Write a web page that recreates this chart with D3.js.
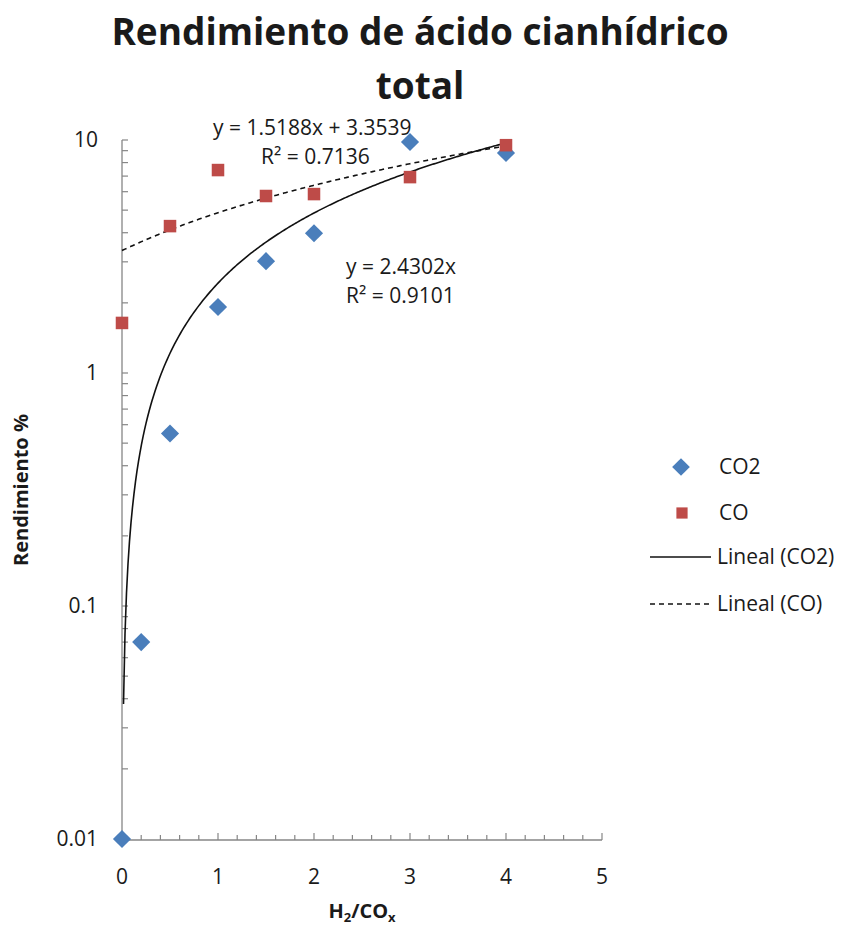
<!DOCTYPE html>
<html>
<head>
<meta charset="utf-8">
<script src="https://cdn.jsdelivr.net/npm/d3@7"></script>
<style>
  body { margin: 0; background: #fff; }
  text { font-family: "Open Sans", "Noto Sans", sans-serif; fill: #1a1a1a; }
</style>
</head>
<body>
<script>
// datos
const xCO2 = [0, 0.2, 0.5, 1, 1.5, 2, 3, 4]
const yCO2 = [0.01, 0.07, 0.55, 1.92, 3.02, 3.98, 9.8, 8.8]
const xCO = [0, 0.5, 1, 1.5, 2, 3, 4]
const yCO = [1.64, 4.27, 7.43, 5.75, 5.86, 6.93, 9.5]

// lineas de tendencia (ecuaciones mostradas en el grafico)
const slopeCO2 = 2.4302
const slopeCO = 1.5188, interceptCO = 3.3539
const eqCO2 = ["y = 2.4302x", "R² = 0.9101"]
const eqCO = ["y = 1.5188x + 3.3539", "R² = 0.7136"]

const xTicks = [0, 1, 2, 3, 4, 5]
const yTicks = [0.01, 0.1, 1, 10]
const yTickLabels = ["0.01", "0.1", "1", "10"]
const legendNames = ["CO2", "CO", "Lineal (CO2)", "Lineal (CO)"]

const W = 847, H = 928
const svg = d3.select("body").append("svg").attr("width", W).attr("height", H)

const x = d3.scaleLinear().domain([0, 5]).range([122, 602])
const y = d3.scaleLog().domain([0.01, 10]).range([839, 140])

const fs = 21   // tamaño de texto general

// ejes
const axisColor = "#868686"
svg.append("line").attr("x1", x(0)).attr("x2", x(0)).attr("y1", y(10)).attr("y2", y(0.01) + 1)
    .attr("stroke", axisColor).attr("stroke-width", 1.3)
svg.append("line").attr("x1", x(0)).attr("x2", x(5)).attr("y1", y(0.01) + 1).attr("y2", y(0.01) + 1)
    .attr("stroke", axisColor).attr("stroke-width", 1.3)

// marcas menores eje y (log)
let yMinor = []
for (let d = 0.01; d < 10; d *= 10) {
    for (let k = 1; k <= 9; k++) yMinor.push(+(d * k).toPrecision(3))
}
yMinor.push(10)
svg.selectAll(".ytick").data(yMinor).enter().append("line")
    .attr("x1", x(0)).attr("x2", x(0) + 6)
    .attr("y1", d => y(d)).attr("y2", d => y(d))
    .attr("stroke", axisColor).attr("stroke-width", 1.2)

svg.selectAll(".ylab").data(yTicks).enter().append("text")
    .attr("x", 98).attr("y", d => y(d)).attr("dy", "0.35em")
    .attr("text-anchor", "end").attr("font-size", fs)
    .text((d, i) => yTickLabels[i])

// marcas eje x
const xMinor = d3.range(0, 5.01, 0.2)
svg.selectAll(".xtick").data(xMinor).enter().append("line")
    .attr("x1", d => x(d)).attr("x2", d => x(d))
    .attr("y1", y(0.01) + 1).attr("y2", (d, i) => y(0.01) + 1 - (i % 5 === 0 ? 7 : 5))
    .attr("stroke", axisColor).attr("stroke-width", 1.2)

svg.selectAll(".xlab").data(xTicks).enter().append("text")
    .attr("x", d => x(d)).attr("y", 877).attr("dy", "0.35em")
    .attr("text-anchor", "middle").attr("font-size", fs)
    .text(d => d)

// lineas de tendencia
const nSamp = 256
const co2Line = d3.range(1, nSamp + 1).map(i => {
    const xv = 4 * i / nSamp
    return [xv, slopeCO2 * xv]
})
const coLine = d3.range(0, nSamp + 1).map(i => {
    const xv = 4 * i / nSamp
    return [xv, slopeCO * xv + interceptCO]
})
const line = d3.line().x(d => x(d[0])).y(d => y(d[1]))

svg.append("path").attr("d", line(co2Line)).attr("fill", "none")
    .attr("stroke", "#111").attr("stroke-width", 1.6)
svg.append("path").attr("d", line(coLine)).attr("fill", "none")
    .attr("stroke", "#111").attr("stroke-width", 1.6).attr("stroke-dasharray", "5,4")

// puntos
const diamond = d3.symbol().type(d3.symbolDiamond2).size(210)
const square = d3.symbol().type(d3.symbolSquare2).size(200)
const blue = "#4a7ebb", red = "#be4b48"

svg.selectAll(".co2").data(xCO2).enter().append("path")
    .attr("d", diamond)
    .attr("transform", (d, i) => "translate(" + x(d) + "," + y(yCO2[i]) + ")")
    .attr("fill", blue)
svg.selectAll(".co").data(xCO).enter().append("path")
    .attr("d", square)
    .attr("transform", (d, i) => "translate(" + x(d) + "," + y(yCO[i]) + ")")
    .attr("fill", red)

// ecuaciones
svg.append("text").attr("x", 213).attr("y", 128).attr("dy", "0.35em").attr("font-size", fs).text(eqCO[0])
svg.append("text").attr("x", 261).attr("y", 157).attr("dy", "0.35em").attr("font-size", fs).text(eqCO[1])
svg.append("text").attr("x", 346).attr("y", 267).attr("dy", "0.35em").attr("font-size", fs).text(eqCO2[0])
svg.append("text").attr("x", 346).attr("y", 296).attr("dy", "0.35em").attr("font-size", fs).text(eqCO2[1])

// titulo
const title = svg.append("text").attr("text-anchor", "middle").attr("font-size", 37).attr("font-weight", "bold")
title.append("tspan").attr("x", 420).attr("y", 45).text("Rendimiento de ácido cianhídrico")
title.append("tspan").attr("x", 420).attr("y", 99).text("total")

// titulos de ejes
svg.append("text").attr("transform", "translate(28,490) rotate(-90)")
    .attr("text-anchor", "middle").attr("font-size", 20).attr("font-weight", "bold")
    .attr("font-family", "DejaVu Sans")
    .text("Rendimiento %")

const xt = svg.append("text").attr("x", 362).attr("y", 918).attr("text-anchor", "middle")
    .attr("font-size", 20).attr("font-weight", "bold")
xt.append("tspan").text("H")
xt.append("tspan").attr("font-size", 13).attr("dy", 4).text("2")
xt.append("tspan").attr("dy", -4).text("/CO")
xt.append("tspan").attr("font-size", 13).attr("dy", 4).text("x")

// leyenda
const legY = [467, 513, 557, 604]
const leg = svg.append("g")
leg.append("path").attr("d", d3.symbol().type(d3.symbolDiamond2).size(200))
    .attr("transform", "translate(681," + legY[0] + ")").attr("fill", blue)
leg.append("path").attr("d", d3.symbol().type(d3.symbolSquare2).size(160))
    .attr("transform", "translate(682," + legY[1] + ")").attr("fill", red)
leg.append("line").attr("x1", 650).attr("x2", 711).attr("y1", legY[2]).attr("y2", legY[2])
    .attr("stroke", "#111").attr("stroke-width", 1.6)
leg.append("line").attr("x1", 650).attr("x2", 711).attr("y1", legY[3]).attr("y2", legY[3])
    .attr("stroke", "#111").attr("stroke-width", 1.6).attr("stroke-dasharray", "5,4")
leg.selectAll(".lt").data(legendNames).enter().append("text")
    .attr("x", (d, i) => i < 2 ? 719 : 717).attr("y", (d, i) => legY[i]).attr("dy", "0.35em")
    .attr("font-size", fs).text(d => d)
</script>
</body>
</html>
